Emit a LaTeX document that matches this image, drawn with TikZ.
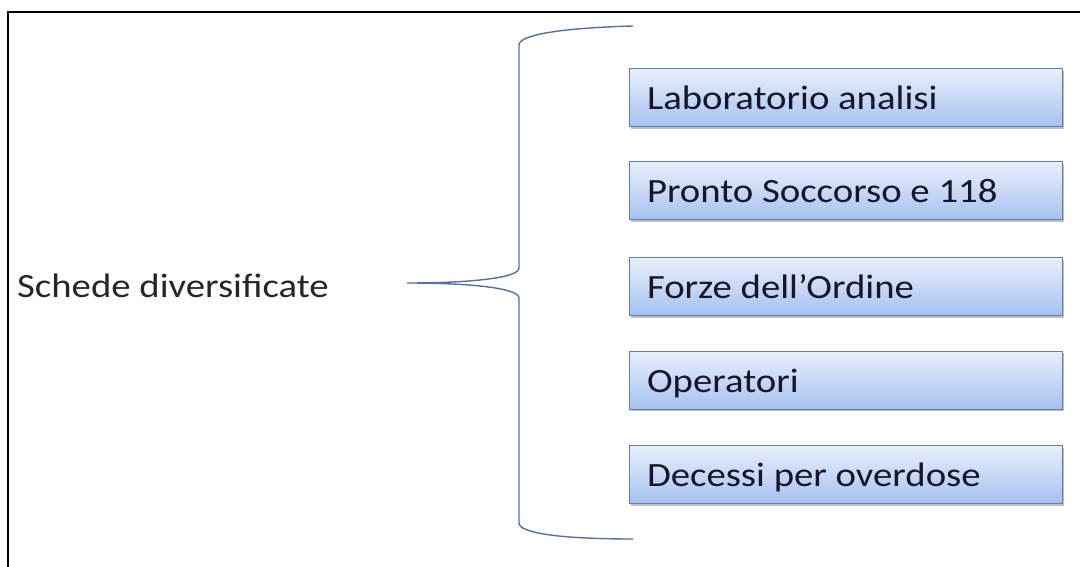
\documentclass[tikz,border=0pt]{standalone}
\usepackage{fontspec}
\setmainfont{Carlito}
\usetikzlibrary{shadows}
\definecolor{frameblack}{RGB}{0,0,0}
\definecolor{bracecol}{RGB}{88,112,158}
\definecolor{boxtop}{RGB}{232,239,252}
\definecolor{boxbot}{RGB}{166,193,240}
\definecolor{boxline}{RGB}{96,124,176}
\definecolor{boxtext}{RGB}{22,22,40}
\definecolor{srctext}{RGB}{38,38,38}
\newcommand{\wtxt}[1]{\scalebox{1.14}[1]{\spaceskip=0pt\xspaceskip=0pt #1}}
\tikzset{
  framelines/.style={line width=2.5pt, draw=frameblack},
  brace/.style={draw=bracecol, line width=1.4pt},
  itembox/.style={rectangle, draw=boxline, line width=1pt,
    top color=boxtop, bottom color=boxbot,
    minimum width=433pt, minimum height=58pt,
    text width=397pt, inner xsep=18pt, inner ysep=0pt, align=left,
    text height=24pt, text depth=0pt,
    font=\fontsize{34}{36}\selectfont, text=boxtext,
    drop shadow={shadow xshift=1.5pt, shadow yshift=-2pt, fill=black, opacity=0.25}},
  srclabel/.style={anchor=base west, inner sep=0pt,
    font=\fontsize{34}{36}\selectfont, text=srctext}
}
\begin{document}
\begin{tikzpicture}[x=1pt, y=-1pt]
\useasboundingbox (0,0) rectangle (1080,567);
\fill[white] (0,0) rectangle (1080,567);
\draw[framelines] (1080,12) -| (8,567);
\node[srclabel] (src) at (17,297) {\wtxt{Schede diversificate}};
\draw[brace] (633,26) .. controls (560,28) and (519,35) .. (519,45)
  -- (519,268) .. controls (519,278) and (470,283) .. (407,283)
  .. controls (470,283) and (519,288) .. (519,298)
  -- (519,523) .. controls (519,533) and (560,539) .. (633,539);
\node[itembox] (b1) at (845.5,98) {\wtxt{Laboratorio analisi}};
\node[itembox] (b2) at (845.5,191) {\wtxt{Pronto Soccorso e 118}};
\node[itembox] (b3) at (845.5,286.5) {\wtxt{Forze dell’Ordine}};
\node[itembox] (b4) at (845.5,380) {\wtxt{Operatori}};
\node[itembox] (b5) at (845.5,474.5) {\wtxt{Decessi per overdose}};
\end{tikzpicture}
\end{document}
